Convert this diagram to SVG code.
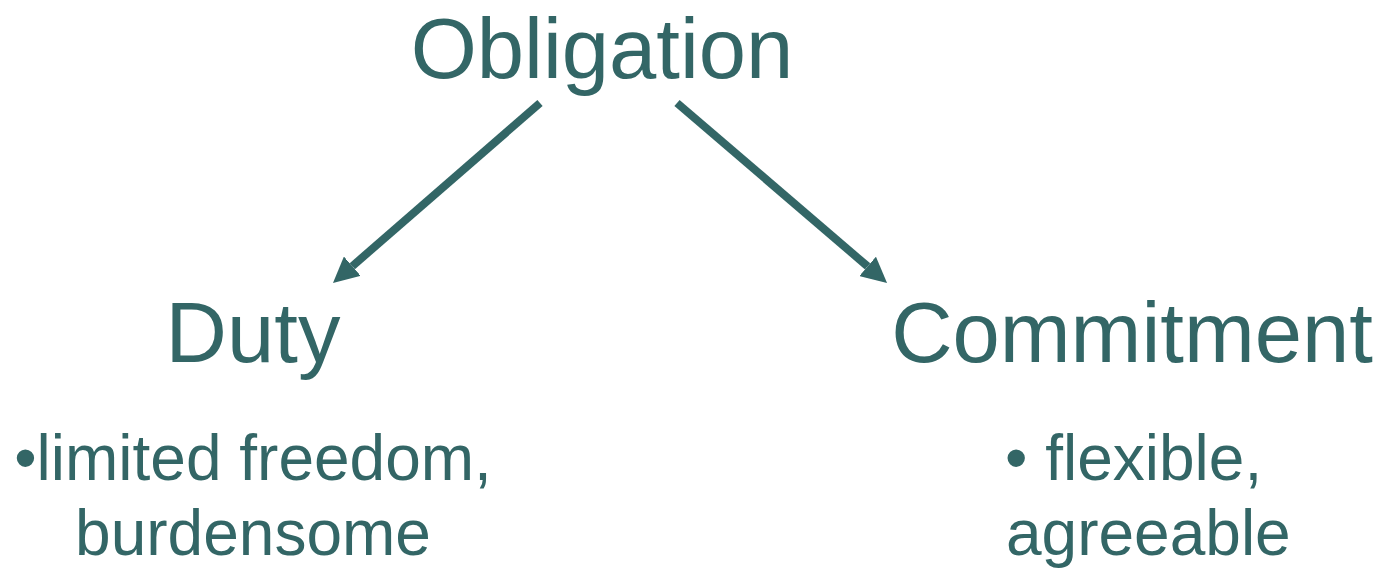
<svg xmlns="http://www.w3.org/2000/svg" width="1383" height="569" viewBox="0 0 1383 569">
<defs>
<style>
text{font-family:"Liberation Sans",Arial,sans-serif;fill:#336666}
.big{font-size:85px}
.small{font-size:64px}
.conn{stroke:#336666;stroke-width:8;fill:none;stroke-linecap:butt}
</style>
<marker id="ah" viewBox="0 0 10 10" refX="0" refY="5" markerWidth="3.2" markerHeight="3.2" orient="auto" markerUnits="strokeWidth">
<path d="M0,0 L10,5 L0,10 z" fill="#336666"/>
</marker>
</defs>
<rect width="1383" height="569" fill="#ffffff"/>
<g id="connectors">
<line class="conn" x1="540" y1="103" x2="352.3" y2="266.2" marker-end="url(#ah)"/>
<line class="conn" x1="677" y1="103" x2="867.6" y2="266.4" marker-end="url(#ah)"/>
</g>
<g id="obligation">
<text class="big" x="602" y="78" text-anchor="middle">Obligation</text>
</g>
<g id="duty">
<text class="big" x="253" y="362" text-anchor="middle">Duty</text>
<text class="small" x="253" y="480" text-anchor="middle">•limited freedom,</text>
<text class="small" x="253" y="555" text-anchor="middle">burdensome</text>
</g>
<g id="commitment">
<text class="big" x="1132" y="362" text-anchor="middle">Commitment</text>
<text class="small" x="1005" y="480">• flexible,</text>
<text class="small" x="1006" y="555">agreeable</text>
</g>
</svg>
